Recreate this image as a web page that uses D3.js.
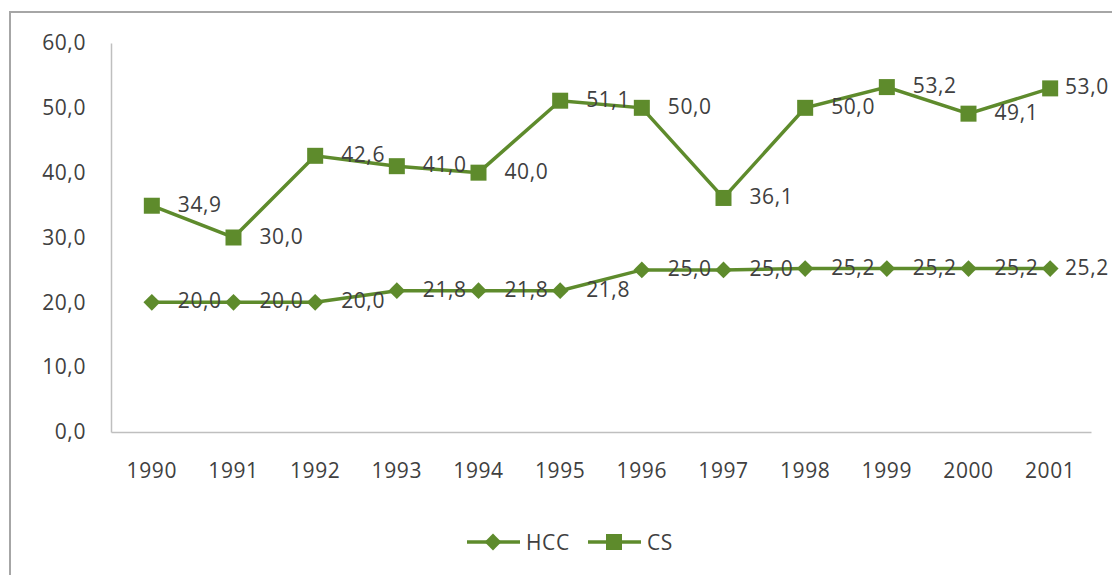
<!DOCTYPE html>
<html>
<head>
<meta charset="utf-8">
<script src="https://cdn.jsdelivr.net/npm/d3@7"></script>
<style>
  body { margin: 0; background: #fff; }
  svg text { font-family: "Open Sans", sans-serif; fill: #404040; letter-spacing: 0.6px; }
</style>
</head>
<body>
<div id="chart"></div>
<script>
// Chart data
const years = ["1990", "1991", "1992", "1993", "1994", "1995", "1996", "1997", "1998", "1999", "2000", "2001"];
const hcc = [20.0, 20.0, 20.0, 21.8, 21.8, 21.8, 25.0, 25.0, 25.2, 25.2, 25.2, 25.2];
const cs = [34.9, 30.0, 42.6, 41.0, 40.0, 51.1, 50.0, 36.1, 50.0, 53.2, 49.1, 53.0];
const yTicks = [0, 10, 20, 30, 40, 50, 60];
const seriesNames = ["HCC", "CS"];

const W = 1112, H = 575;
const margin = { top: 43, right: 21, bottom: 143, left: 111 };
const green = "#5e8b2c";
const fmt = v => d3.format(".1f")(v).replace(".", ",");

const svg = d3.select("#chart").append("svg")
  .attr("width", W)
  .attr("height", H);

// outer chart border
svg.append("rect")
  .attr("x", 10).attr("y", 12)
  .attr("width", W + 20).attr("height", H + 20)
  .attr("fill", "none")
  .attr("stroke", "#a6a6a6")
  .attr("stroke-width", 2);

const x = d3.scaleBand()
  .domain(years)
  .range([margin.left, W - margin.right]);

const y = d3.scaleLinear()
  .domain([0, 60])
  .range([H - margin.bottom, margin.top]);

// Y axis
const yAxis = svg.append("g")
  .attr("transform", `translate(${margin.left},0)`)
  .call(d3.axisLeft(y).tickValues(yTicks).tickSize(0).tickPadding(25).tickFormat(fmt));
yAxis.select(".domain").attr("stroke", "#bfbfbf").attr("stroke-width", 1.5);
yAxis.selectAll("text").attr("font-size", 21).style("font-family", "Open Sans").attr("fill", "#404040");

// X axis
const xAxis = svg.append("g")
  .attr("transform", `translate(0,${y(0)})`)
  .call(d3.axisBottom(x).tickSize(0).tickPadding(31));
xAxis.select(".domain").attr("stroke", "#bfbfbf").attr("stroke-width", 1.5);
xAxis.selectAll("text").attr("font-size", 21).style("font-family", "Open Sans").attr("fill", "#404040");

const cx = (d, i) => x(years[i]) + x.bandwidth() / 2;
const line = d3.line().x(cx).y(d => y(d));

const diamond = d3.symbol().type(d3.symbolDiamond2).size(180);

// series
[hcc, cs].forEach((vals, s) => {
  svg.append("path")
    .datum(vals)
    .attr("fill", "none")
    .attr("stroke", green)
    .attr("stroke-width", 3.5)
    .attr("d", line);

  const g = svg.append("g");
  if (s === 0) {
    g.selectAll("path")
      .data(vals)
      .join("path")
      .attr("d", diamond)
      .attr("transform", (d, i) => `translate(${cx(d, i)},${y(d)})`)
      .attr("fill", green);
  } else {
    g.selectAll("rect")
      .data(vals)
      .join("rect")
      .attr("x", (d, i) => cx(d, i) - 8)
      .attr("y", d => y(d) - 8)
      .attr("width", 16).attr("height", 16)
      .attr("fill", green);
  }

  // data labels, kept inside the chart area at the right edge
  svg.append("g").selectAll("text")
    .data(vals)
    .join("text")
    .attr("x", (d, i) => Math.min(cx(d, i) + 26, 1065))
    .attr("y", d => y(d) + 6)
    .attr("font-size", 21)
    .text(fmt);
});

// legend
const legend = svg.append("g").attr("transform", "translate(467,542)");
seriesNames.forEach((name, i) => {
  const lg = legend.append("g").attr("transform", `translate(${i * 121},0)`);
  lg.append("line")
    .attr("x1", 0).attr("x2", 53)
    .attr("y1", 0).attr("y2", 0)
    .attr("stroke", green).attr("stroke-width", 3.5);
  if (i === 0) {
    lg.append("path").attr("d", diamond).attr("transform", "translate(26,0)").attr("fill", green);
  } else {
    lg.append("rect").attr("x", 18).attr("y", -8).attr("width", 16).attr("height", 16).attr("fill", green);
  }
  lg.append("text")
    .attr("x", 59).attr("y", 8)
    .attr("font-size", 21)
    .text(name);
});
</script>
</body>
</html>
